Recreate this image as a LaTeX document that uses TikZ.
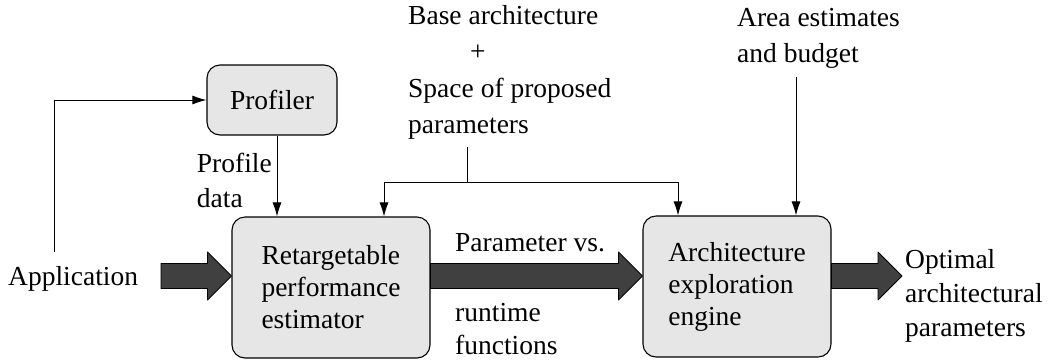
\documentclass[tikz,border=0pt]{standalone}
\usepackage{fontspec}
\setmainfont{Liberation Serif}
\usetikzlibrary{arrows.meta,calc}
\definecolor{boxfill}{HTML}{E6E6E6}
\definecolor{fatfill}{HTML}{404040}
% fat block arrow between two points on the same height
\newcommand{\fatarrow}[2]{%
  \draw[fatstyle] let \p1=(#1), \p2=(#2) in
    (\x1,\y1+12.5pt) -- (\x2-24pt,\y1+12.5pt) -- (\x2-24pt,\y1+24pt) -- (\x2,\y1)
    -- (\x2-24pt,\y1-24pt) -- (\x2-24pt,\y1-12.5pt) -- (\x1,\y1-12.5pt) -- cycle;}
\begin{document}
\begin{tikzpicture}[x=1pt, y=-1pt, font=\fontsize{27.5}{32}\selectfont, line join=round,
    >={Latex[length=14pt,width=9pt]},
    box/.style={draw, line width=1.1pt, fill=boxfill, rounded corners=13pt, align=left},
    fatstyle/.style={draw, line width=0.8pt, fill=fatfill},
    thin/.style={line width=0.9pt},
    txt/.style={align=left, inner sep=0pt}]
  \useasboundingbox (0,0) rectangle (1056,360);
  % blocks
  \node[box, minimum width=130pt, minimum height=70pt] (profiler) at (272,100) {Profiler};
  \node[box, minimum width=198pt, minimum height=141pt] (estimator) at (331,287.5)
    {Retargetable\\performance\\estimator};
  \node[box, minimum width=188pt, minimum height=141pt] (engine) at (737,286.5)
    {Architecture\\exploration\\engine};
  % labels
  \node[txt, anchor=west] (app) at (8,279) {Application};
  \node[txt, anchor=east, font=\fontsize{27.5}{35}\selectfont] (pdata) at (272,180) {Profile\\data};
  \node[txt, anchor=north west, font=\fontsize{27.5}{36.5}\selectfont] (base) at (408,5)
    {Base architecture\\\hspace*{62pt}+\\Space of proposed\\parameters};
  \node[txt, anchor=north west, font=\fontsize{27.5}{36}\selectfont] (area) at (737,8)
    {Area estimates\\and budget};
  \node[txt, anchor=west] (pvs) at (455,243) {Parameter vs.};
  \node[txt, anchor=west, font=\fontsize{27.5}{33}\selectfont] (rtf) at (455,329) {runtime\\functions};
  \node[txt, anchor=west, font=\fontsize{27.5}{34}\selectfont] (opt) at (905,296)
    {Optimal\\architectural\\parameters};
  % thin connectors
  \draw[thin, ->] (54,252) |- (profiler.west);
  \draw[thin, ->] ([xshift=5pt]profiler.south) -- ([xshift=-54pt]estimator.north);
  \coordinate (split) at (467,182);
  \draw[thin] (split |- 0,147) -- (split);
  \draw[thin, ->] (split) -| ([xshift=53pt]estimator.north);
  \draw[thin, ->] (split) -| ([xshift=-59pt]engine.north);
  \draw[thin, ->] ([xshift=59pt]engine.north |- 0,77) -- ([xshift=59pt]engine.north);
  % data flow
  \coordinate (flow) at (0,276);
  \fatarrow{161,276}{estimator.west |- flow}
  \fatarrow{estimator.east |- flow}{engine.west |- flow}
  \fatarrow{engine.east |- flow}{902,276}
\end{tikzpicture}
\end{document}
